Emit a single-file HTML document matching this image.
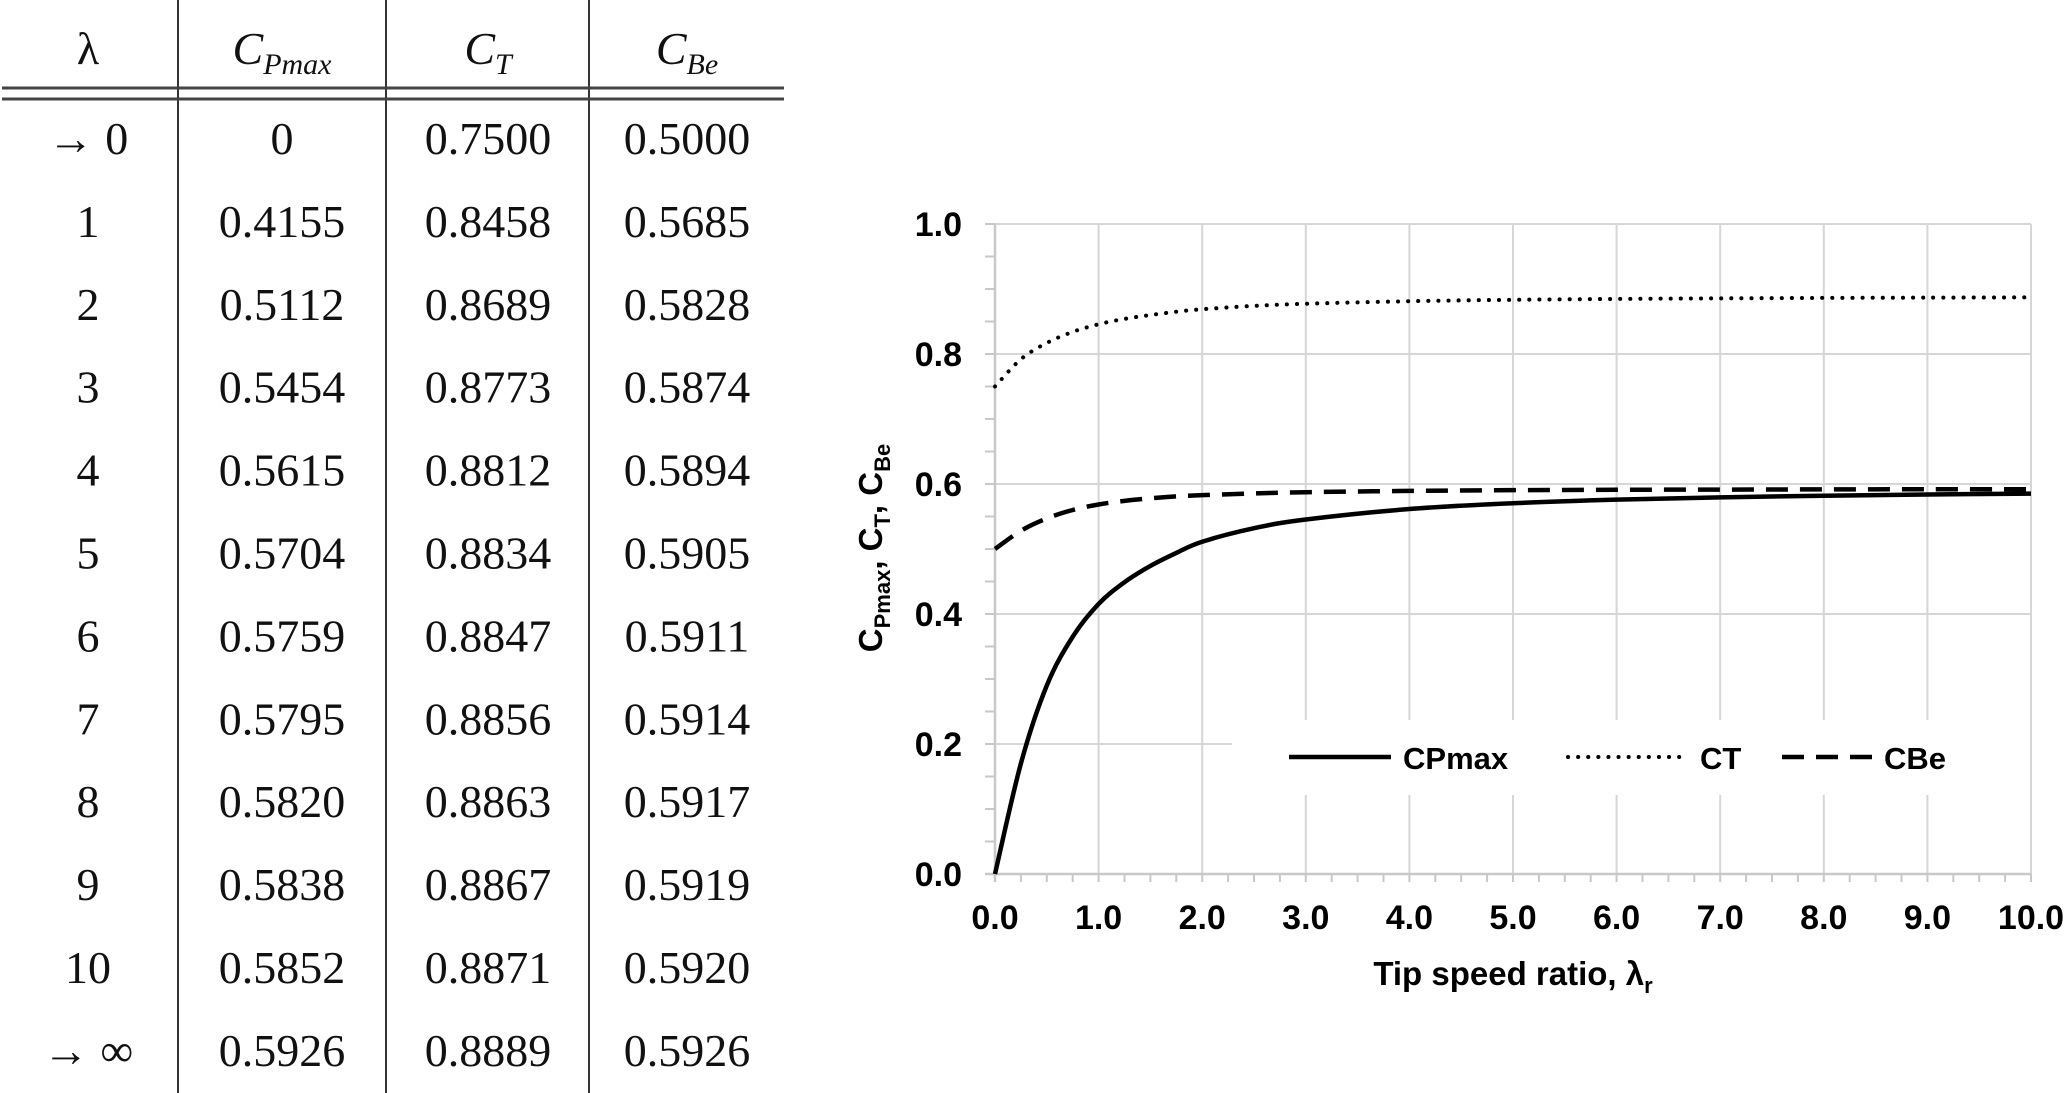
<!DOCTYPE html>
<html><head><meta charset="utf-8"><style>
html,body{margin:0;padding:0;background:#fff;}
body{width:2067px;height:1093px;position:relative;overflow:hidden;}
svg{position:absolute;left:0;top:0;}
</style></head><body>
<svg width="2067" height="1093">
<g id="table" font-family="Liberation Serif, serif" font-size="46" fill="#111" text-anchor="middle"></g>
<g id="chart"></g>
</svg>
<script>
const tLambda=["→ 0","1","2","3","4","5","6","7","8","9","10","→ ∞"];
const tCP=["0","0.4155","0.5112","0.5454","0.5615","0.5704","0.5759","0.5795","0.5820","0.5838","0.5852","0.5926"];
const tCT=["0.7500","0.8458","0.8689","0.8773","0.8812","0.8834","0.8847","0.8856","0.8863","0.8867","0.8871","0.8889"];
const tCB=["0.5000","0.5685","0.5828","0.5874","0.5894","0.5905","0.5911","0.5914","0.5917","0.5919","0.5920","0.5926"];

const xs=[0,0.25,0.5,0.75,1,1.25,1.5,1.75,2,2.5,3,4,5,6,7,8,9,10];
const cp=[0,0.17,0.29,0.365,0.4155,0.449,0.474,0.494,0.5112,0.532,0.5454,0.5615,0.5704,0.5759,0.5795,0.5820,0.5838,0.5852];
const ct=[0.75,0.792,0.817,0.834,0.8458,0.854,0.860,0.865,0.8689,0.874,0.8773,0.8812,0.8834,0.8847,0.8856,0.8863,0.8867,0.8871];
const cb=[0.5,0.528,0.547,0.56,0.5685,0.574,0.578,0.581,0.5828,0.5855,0.5874,0.5894,0.5905,0.5911,0.5914,0.5917,0.5919,0.5920];
const xTicks=[0,1,2,3,4,5,6,7,8,9,10];
const yTicks=[0,0.2,0.4,0.6,0.8,1.0];

const NS="http://www.w3.org/2000/svg";
function mk(tag,attrs,parent,text){const e=document.createElementNS(NS,tag);for(const k in attrs)e.setAttribute(k,attrs[k]);if(text!==undefined)e.textContent=text;parent.appendChild(e);return e;}

// TABLE
const T=document.getElementById('table');
const colX=[88,282,488,687];
[178,386,589].forEach((x,i)=>{const l=mk('line',{x1:x,y1:0,x2:x,y2:1093,stroke:'#333','stroke-width':2},T);

});
[88,99].forEach(y=>{const l=mk('line',{x1:2,y1:y,x2:784,y2:y,stroke:'#444','stroke-width':3},T);

});
function hdr(x,main,sub){const t=mk('text',{x:x,y:64,'font-style':'italic'},T);


mk('tspan',{},t,main);if(sub)mk('tspan',{'font-size':30,dy:10},t,sub);}
const h0=mk('text',{x:88,y:64},T,'λ');


hdr(282,'C','Pmax');hdr(488,'C','T');hdr(687,'C','Be');
for(let i=0;i<tLambda.length;i++){const y=154+i*82.9;
[tLambda[i],tCP[i],tCT[i],tCB[i]].forEach((v,j)=>{const t=mk('text',{x:colX[j],y:y},T,v);

});}

// CHART
const C=document.getElementById('chart');
const X0=995,X1=2031,Y0=874,Y1=224;
const sx=v=>X0+(v-0)/10*(X1-X0);
const sy=v=>Y0-(v-0)/1*(Y0-Y1);
xTicks.forEach(v=>{if(v===0)return;const l=mk('line',{x1:sx(v),y1:Y1,x2:sx(v),y2:Y0,stroke:'#d6d6d6','stroke-width':2},C);

});
yTicks.forEach(v=>{if(v===0)return;const l=mk('line',{x1:X0,y1:sy(v),x2:X1,y2:sy(v),stroke:'#d6d6d6','stroke-width':2},C);

});
const ax=mk('line',{x1:X0-10,y1:Y0,x2:X1,y2:Y0,stroke:'#c8c8c8','stroke-width':2.5},C);


const ay=mk('line',{x1:X0,y1:Y1,x2:X0,y2:Y0+8,stroke:'#c8c8c8','stroke-width':2.5},C);


for(let k=0;k<=40;k++){const x=sx(k*0.25);const l=mk('line',{x1:x,y1:Y0,x2:x,y2:Y0+8,stroke:'#c8c8c8','stroke-width':2},C);

}
for(let k=0;k<=20;k++){const y=sy(k*0.05);const l=mk('line',{x1:X0-10,y1:y,x2:X0,y2:y,stroke:'#c8c8c8','stroke-width':2},C);

}
xTicks.forEach(v=>{const t=mk('text',{x:sx(v),y:929,'text-anchor':'middle','font-family':'Liberation Sans, sans-serif','font-weight':'bold','font-size':34},C,v.toFixed(1));

});
yTicks.forEach(v=>{const t=mk('text',{x:962,y:sy(v)+12,'text-anchor':'end','font-family':'Liberation Sans, sans-serif','font-weight':'bold','font-size':34},C,v.toFixed(1));

});
const xt=mk('text',{x:1513,y:985,'text-anchor':'middle','font-family':'Liberation Sans, sans-serif','font-weight':'bold','font-size':33},C);


mk('tspan',{},xt,'Tip speed ratio, λ');mk('tspan',{'font-size':22,dy:8},xt,'r');
const yt=mk('text',{transform:'translate(882,548) rotate(-90)','text-anchor':'middle','font-family':'Liberation Sans, sans-serif','font-weight':'bold','font-size':33},C);


mk('tspan',{},yt,'C');mk('tspan',{'font-size':22,dy:8},yt,'Pmax');mk('tspan',{dy:-8},yt,', C');mk('tspan',{'font-size':22,dy:8},yt,'T');mk('tspan',{dy:-8},yt,', C');mk('tspan',{'font-size':22,dy:8},yt,'Be');
function path(ys){const p=xs.map((x,i)=>[sx(x),sy(ys[i])]);let d='M'+p[0][0]+','+p[0][1];
for(let i=0;i<p.length-1;i++){const a=p[Math.max(0,i-1)],b=p[i],c=p[i+1],e=p[Math.min(p.length-1,i+2)];
const c1=[b[0]+(c[0]-a[0])/6,b[1]+(c[1]-a[1])/6],c2=[c[0]-(e[0]-b[0])/6,c[1]-(e[1]-b[1])/6];
d+=' C'+c1[0]+','+c1[1]+' '+c2[0]+','+c2[1]+' '+c[0]+','+c[1];}return d;}
const s1=mk('path',{d:path(cb),fill:'none',stroke:'#000','stroke-width':4.5,'stroke-dasharray':'22 12'},C);


const s2=mk('path',{d:path(ct),fill:'none',stroke:'#000','stroke-width':4,'stroke-dasharray':'0.1 10','stroke-linecap':'round'},C);


const s3=mk('path',{d:path(cp),fill:'none',stroke:'#000','stroke-width':4.5},C);


const lg=mk('g',{},C);


mk('rect',{x:1232,y:720,width:798,height:75,fill:'#fff'},lg);
const items=[['CPmax',1289,1391,{}],['CT',1568,1688,{'stroke-dasharray':'0.1 10','stroke-linecap':'round','stroke-width':4}],['CBe',1782,1872,{'stroke-dasharray':'22 12'}]];
items.forEach(it=>{const g=mk('g',{},lg);


const a=Object.assign({x1:it[1],y1:757,x2:it[2],y2:757,stroke:'#000','stroke-width':4.5},it[3]);mk('line',a,g);
mk('text',{x:it[2]+12,y:769,'font-family':'Liberation Sans, sans-serif','font-weight':'bold','font-size':31},g,it[0]);});
</script>
</body></html>
